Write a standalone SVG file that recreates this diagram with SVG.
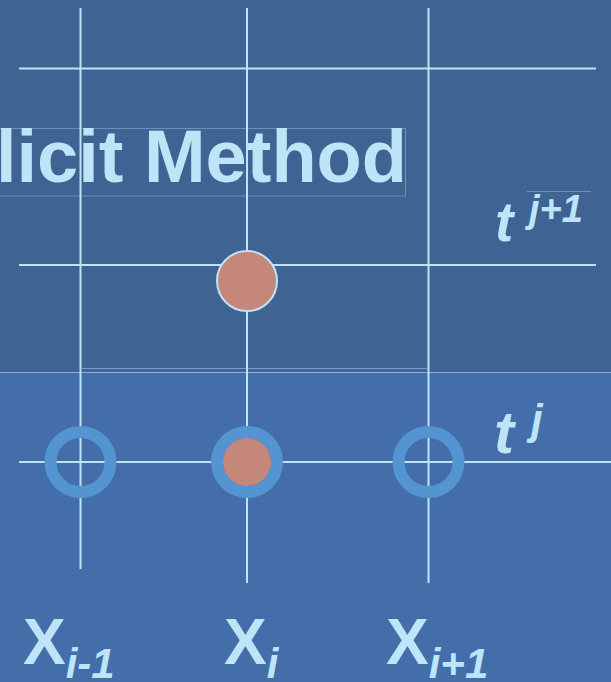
<svg xmlns="http://www.w3.org/2000/svg" width="611" height="682" viewBox="0 0 611 682">
<style>
.grid{stroke:#BFE4F8;stroke-width:2;fill:none}
.lbl{fill:#BEE4F8;font-family:"Liberation Sans",Arial,sans-serif;font-weight:bold}
.it{font-style:italic}
.ring{fill:none;stroke:#5494D0;stroke-width:12}
.pt{fill:#C4877A}
</style>
<rect x="0" y="0" width="611" height="372" fill="#3F6392"/>
<rect x="0" y="372" width="611" height="310" fill="#436EAA"/>
<line x1="0" y1="372.5" x2="611" y2="372.5" stroke="#8FB2DC" stroke-width="1"/>
<line x1="82" y1="368.5" x2="427" y2="368.5" stroke="#7A9CC8" stroke-width="1"/>
<g id="title">
<rect x="-2" y="128.5" width="407.5" height="67.5" fill="none" stroke="#6F8FBB" stroke-width="1"/>
<text class="lbl" x="407" y="182" font-size="74" text-anchor="end">licit Method</text>
</g>
<g id="connectors">
<line class="grid" x1="80.5" y1="8" x2="80.5" y2="569"/>
<line class="grid" x1="247" y1="8" x2="247" y2="583"/>
<line class="grid" x1="428.5" y1="8" x2="428.5" y2="583"/>
<line class="grid" x1="19" y1="68.5" x2="596" y2="68.5"/>
<line class="grid" x1="19" y1="265" x2="596" y2="265"/>
<line class="grid" x1="19" y1="462" x2="611" y2="462"/>
</g>
<g id="node-top">
<circle class="pt" cx="247" cy="281" r="30" stroke="#BFE4F8" stroke-width="2"/>
</g>
<g id="node-left">
<circle class="ring" cx="80.5" cy="462" r="30"/>
</g>
<g id="node-mid">
<circle class="ring" cx="247" cy="462" r="30"/>
<circle class="pt" cx="247" cy="462" r="24"/>
</g>
<g id="node-right">
<circle class="ring" cx="428.5" cy="462" r="30"/>
</g>
<g id="label-tj1">
<line x1="527" y1="191.5" x2="591" y2="191.5" stroke="#6F8FBB" stroke-width="1"/>
<text class="lbl it" x="495" y="241" font-size="55">t</text>
<text class="lbl it" x="529" y="222" font-size="38">j+1</text>
</g>
<g id="label-tj">
<text class="lbl it" x="494" y="453" font-size="60">t</text>
<text class="lbl it" x="531" y="434" font-size="42">j</text>
</g>
<g id="label-x">
<text class="lbl" x="23" y="664" font-size="64">X<tspan class="it" font-size="42" dy="14">i-1</tspan></text>
<text class="lbl" x="224" y="664" font-size="64">X<tspan class="it" font-size="42" dy="14">i</tspan></text>
<text class="lbl" x="386" y="664" font-size="64">X<tspan class="it" font-size="42" dy="14">i+1</tspan></text>
</g>
</svg>
